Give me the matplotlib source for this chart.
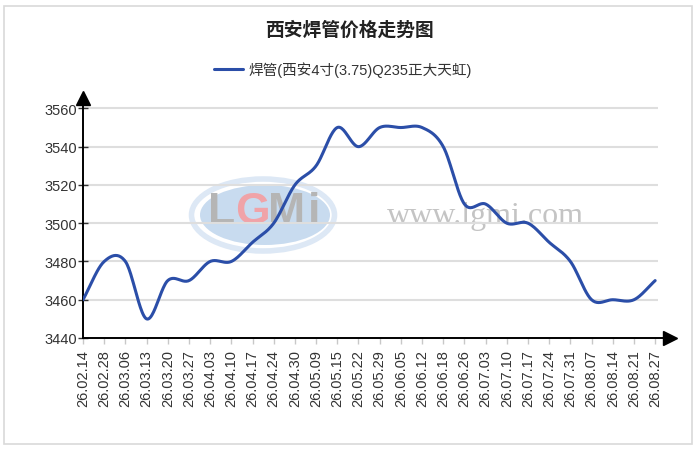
import matplotlib
matplotlib.use("Agg")
import numpy as np
import matplotlib.pyplot as plt
import matplotlib.transforms as mtransforms
from matplotlib.patches import Ellipse, Rectangle

plt.rcParams['font.family'] = ['Liberation Sans', 'Noto Sans CJK SC', 'DejaVu Sans']

title = '西安焊管价格走势图'
series_name = '焊管(西安4寸(3.75)Q235正大天虹)'
dates = ['26.02.14', '26.02.28', '26.03.06', '26.03.13', '26.03.20', '26.03.27',
         '26.04.03', '26.04.10', '26.04.17', '26.04.24', '26.04.30', '26.05.09',
         '26.05.15', '26.05.22', '26.05.29', '26.06.05', '26.06.12', '26.06.18',
         '26.06.26', '26.07.03', '26.07.10', '26.07.17', '26.07.24', '26.07.31',
         '26.08.07', '26.08.14', '26.08.21', '26.08.27']
prices = [3460, 3480, 3480, 3450, 3470, 3470, 3480, 3480, 3490, 3500, 3520, 3530,
          3550, 3540, 3550, 3550, 3550, 3540, 3510, 3510, 3500, 3500, 3490, 3480,
          3460, 3460, 3460, 3470]
yticks = [3440, 3460, 3480, 3500, 3520, 3540, 3560]


def catmull_rom(y, steps=24):
    # smooth curve through the points, like the original chart's spline
    y = np.asarray(y, dtype=float)
    n = len(y)
    m = np.zeros(n)
    m[1:-1] = (y[2:] - y[:-2]) / 2.
    m[0] = y[1] - y[0]
    m[-1] = y[-1] - y[-2]
    xs, ys = [], []
    for i in range(n - 1):
        t = np.linspace(0, 1, steps, endpoint=(i == n - 2))
        h00 = 2*t**3 - 3*t**2 + 1
        h10 = t**3 - 2*t**2 + t
        h01 = -2*t**3 + 3*t**2
        h11 = t**3 - t**2
        xs.append(i + t)
        ys.append(h00*y[i] + h10*m[i] + h01*y[i+1] + h11*m[i+1])
    return np.concatenate(xs), np.concatenate(ys)


W, H = 699, 452
fig = plt.figure(figsize=(W/100., H/100.), dpi=100)

# outer frame
fig.patches.append(Rectangle((4/W, 1 - 445/H), 688/W, 438/H, transform=fig.transFigure,
                             fill=False, edgecolor='#d9d9d9', linewidth=1.2, zorder=0))

# watermark (behind the axes)
fig.patches.append(Ellipse((263/W, 1 - 216/H), 143/W, 72/H, transform=fig.transFigure,
                           facecolor='none', edgecolor='#dde8f5', linewidth=4, zorder=0))
fig.patches.append(Ellipse((265/W, 1 - 216/H), 130/W, 60/H, transform=fig.transFigure,
                           facecolor='#c8dbef', edgecolor='none', zorder=0))
for ch, xp, col in [('L', 222, '#b5b5b5'), ('G', 252, '#f0a3a8'),
                    ('M', 287, '#b5b5b5'), ('i', 314, '#b5b5b5')]:
    fig.text(xp/W, 1 - 213/H, ch, fontsize=32, fontweight='bold', color=col,
             ha='center', va='center', zorder=0)
fig.text(485/W, 1 - 217/H, 'www.lgmi.com', fontsize=23, family='Liberation Serif',
         color='#c4c4c4', ha='center', va='center', zorder=0)

ax = fig.add_axes([83/W, 1 - 339/H, 580/W, 234/H])
ax.set_facecolor('none')
ax.set_zorder(2)

n = len(prices)
x = np.arange(n)
ax.set_xlim(0, 27.37)
ax.set_ylim(3440, 3562.3)

# grid
for yv in yticks[1:]:
    ax.hlines(yv, 0, 27.15, color='#dedede', linewidth=1.5, zorder=1)

xs, ys = catmull_rom(prices)
ax.plot(xs, ys, color='#2b4ea8', linewidth=2.2, zorder=3, label=series_name,
        solid_capstyle='round')

for s in ['top', 'right']:
    ax.spines[s].set_visible(False)
for s in ['left', 'bottom']:
    ax.spines[s].set_color('black')
    ax.spines[s].set_linewidth(1.4)

ax.set_yticks(yticks)
ax.set_yticklabels([str(v) for v in yticks])
ax.tick_params(axis='y', direction='inout', length=7, width=1, color='#333333',
               labelsize=10.5, labelcolor='#333333', pad=1)
ax.set_xticks(x)
ax.set_xticklabels(dates, rotation=90)
ax.tick_params(axis='x', direction='out', length=4, width=1, color='#c8c8c8',
               labelsize=10.5, labelcolor='#333333', pad=4)

# arrow heads on the axes
off_x = mtransforms.offset_copy(ax.transAxes, fig=fig, x=6.5*0.72, y=0, units='points')
ax.plot([1], [0], marker='>', markersize=9.5, color='black', transform=off_x, clip_on=False)
off_y = mtransforms.offset_copy(ax.transAxes, fig=fig, x=0, y=6*0.72, units='points')
ax.plot([0], [1], marker='^', markersize=9.5, color='black', transform=off_y, clip_on=False)

fig.text(349/W, 1 - 31/H, title, fontsize=13.5, fontweight='bold', ha='center',
         va='center', color='#222222')
leg = fig.legend(loc='center', bbox_to_anchor=(343/W, 1 - 70/H), frameon=False,
                 fontsize=10.5, handlelength=2.0, handletextpad=0.4)
for t in leg.get_texts():
    t.set_color('#333333')

fig.savefig('out.png', dpi=100)
